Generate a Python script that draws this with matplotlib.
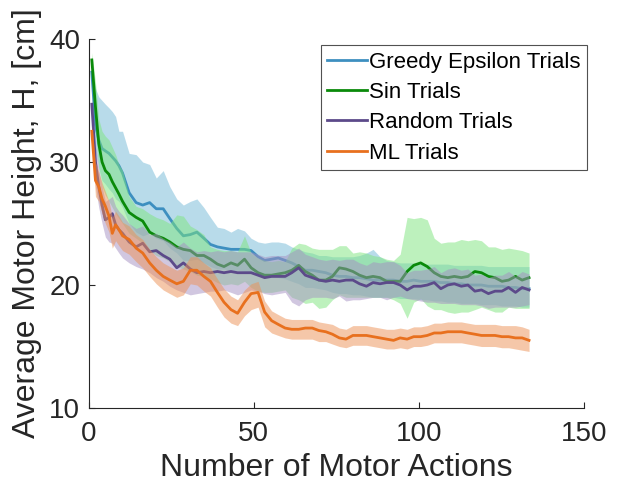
import matplotlib
matplotlib.use("Agg")
import matplotlib.pyplot as plt

plt.rcParams['font.family'] = ['Liberation Sans', 'DejaVu Sans']

actions = [1.0, 2.1, 3.1, 4.1, 5.1, 6.2, 7.2, 8.2, 9.2, 10.3, 12.3, 14.4, 16.4, 18.5, 20.5, 22.6, 24.6, 26.7, 28.7, 30.8,
           32.8, 34.9, 36.9, 39.0, 41.0, 43.1, 45.1, 47.2, 49.2, 51.3, 53.3, 55.4, 57.4, 59.5, 61.5, 63.6, 65.6, 67.7, 69.7, 71.8,
           73.8, 75.9, 77.9, 80.0, 82.0, 84.1, 86.1, 88.2, 90.2, 92.3, 94.3, 96.4, 98.4, 100.5, 102.5, 104.6, 106.6, 108.7, 110.7, 112.8,
           114.8, 116.9, 118.9, 121.0, 123.0, 125.1, 127.1, 129.2, 131.2, 133.3]

greedy_mean = [37.3, 33.0, 31.8, 31.1, 30.9, 30.7, 30.4, 30.1, 29.7, 29.1, 27.5, 26.7, 26.5, 26.7, 26.2, 26.2, 25.4, 24.6, 24.0, 24.1,
               24.3, 23.8, 23.3, 23.1, 23.0, 22.9, 22.9, 22.9, 22.8, 22.3, 22.0, 22.1, 22.2, 22.0, 21.8, 21.5, 21.2, 21.2, 21.1, 21.0,
               20.8, 20.7, 20.7, 20.6, 20.6, 20.5, 20.4, 20.4, 20.4, 20.4, 20.3, 20.3, 20.4, 20.3, 20.3, 20.3, 20.2, 20.2, 20.1, 20.1,
               20.0, 20.0, 20.0, 19.9, 19.9, 19.9, 19.8, 19.8, 19.7, 19.7]
greedy_upper = [38.0, 36.0, 35.3, 35.0, 34.7, 34.4, 34.1, 33.7, 32.5, 32.5, 30.7, 30.6, 30.0, 29.8, 28.7, 29.3, 28.0, 27.0, 26.5, 26.8,
                27.0, 26.3, 25.5, 24.7, 24.6, 24.3, 24.6, 24.4, 23.8, 23.5, 23.4, 23.5, 23.5, 23.4, 23.1, 22.9, 22.7, 22.6, 22.4, 22.4,
                22.3, 22.3, 22.3, 22.3, 22.4, 22.6, 22.9, 22.3, 22.0, 21.9, 21.8, 21.8, 21.8, 21.7, 21.7, 21.7, 21.7, 21.7, 21.6, 21.6,
                21.6, 21.6, 21.6, 21.5, 21.5, 21.5, 21.5, 21.5, 21.5, 21.5]
greedy_lower = [36.5, 31.0, 29.5, 28.5, 28.2, 27.8, 27.5, 27.0, 26.8, 26.3, 25.0, 24.3, 24.0, 24.2, 23.8, 23.6, 23.0, 22.6, 22.0, 22.0,
                22.1, 21.8, 21.5, 21.3, 21.3, 21.2, 21.2, 21.1, 21.0, 20.8, 20.6, 20.6, 20.6, 20.5, 20.3, 20.1, 19.8, 19.8, 19.7, 19.6,
                19.4, 19.3, 19.3, 19.2, 19.2, 19.1, 19.0, 19.0, 19.0, 19.0, 18.9, 18.9, 18.9, 18.8, 18.8, 18.7, 18.7, 18.6, 18.6, 18.5,
                18.5, 18.5, 18.4, 18.4, 18.4, 18.3, 18.3, 18.3, 18.2, 18.2]

sin_mean = [38.3, 34.5, 31.5, 30.0, 29.3, 29.0, 28.4, 27.9, 27.4, 26.8, 25.9, 25.5, 25.2, 24.3, 24.0, 23.8, 23.5, 23.1, 22.9, 22.8,
            22.4, 22.4, 22.1, 21.7, 21.5, 21.8, 21.6, 22.1, 21.4, 21.0, 20.8, 20.8, 20.9, 21.0, 21.2, 21.6, 21.1, 20.8, 20.4, 20.4,
            20.7, 21.4, 21.3, 21.1, 20.8, 20.6, 20.7, 20.6, 20.3, 20.3, 20.3, 21.1, 21.6, 21.8, 21.5, 21.0, 20.7, 20.6, 20.7, 20.6,
            20.7, 21.1, 21.0, 20.7, 20.6, 20.3, 20.4, 20.7, 20.4, 20.6]
sin_upper = [38.9, 36.5, 33.5, 32.5, 32.1, 31.8, 31.2, 30.6, 29.8, 29.3, 27.2, 26.4, 26.2, 25.8, 25.5, 25.3, 25.0, 25.7, 25.6, 24.8,
             24.5, 24.1, 23.1, 22.9, 22.8, 22.8, 22.7, 24.0, 22.6, 22.2, 22.0, 21.9, 22.0, 21.9, 23.0, 23.4, 23.3, 23.0, 22.9, 22.9,
             22.9, 23.2, 23.2, 22.6, 22.7, 22.6, 22.4, 22.3, 22.1, 22.0, 22.5, 25.5, 25.4, 25.5, 25.3, 23.8, 23.4, 23.5, 23.5, 23.7,
             23.6, 23.7, 23.6, 23.1, 23.1, 22.9, 23.0, 22.9, 22.8, 22.6]
sin_lower = [37.5, 32.5, 29.5, 28.0, 27.3, 26.8, 26.3, 25.8, 25.4, 25.0, 24.2, 23.8, 23.4, 22.8, 22.4, 22.2, 21.9, 21.5, 21.3, 21.1,
             20.8, 20.7, 20.5, 20.2, 20.0, 20.1, 20.0, 20.3, 19.8, 19.5, 19.4, 19.4, 19.5, 19.6, 19.0, 18.8, 18.5, 18.6, 18.1, 18.2,
             18.8, 19.2, 19.0, 19.0, 19.0, 19.0, 19.0, 19.0, 19.0, 18.8, 18.5, 17.3, 18.6, 18.9, 18.3, 18.0, 18.0, 17.8, 17.7, 17.8,
             17.8, 18.0, 18.2, 18.0, 17.8, 17.8, 18.2, 18.1, 18.1, 18.1]

random_mean = [34.7, 30.0, 28.0, 26.5, 25.3, 25.5, 25.8, 24.9, 24.5, 24.2, 23.5, 23.1, 23.4, 22.7, 22.8, 22.4, 22.1, 21.4, 21.8, 21.3,
               21.0, 21.1, 21.0, 21.1, 21.0, 21.1, 21.0, 21.0, 21.0, 20.8, 20.6, 20.7, 20.7, 20.7, 21.0, 21.4, 20.8, 20.6, 20.4, 20.3,
               20.4, 20.3, 20.4, 20.4, 20.1, 19.9, 20.2, 20.1, 20.2, 20.2, 20.0, 19.6, 19.9, 19.9, 20.0, 20.2, 19.7, 20.0, 20.1, 19.9,
               20.0, 19.5, 19.6, 19.3, 19.5, 19.5, 19.8, 19.4, 19.8, 19.6]
random_upper = [35.3, 31.5, 29.5, 28.0, 26.8, 27.0, 27.2, 26.4, 26.0, 25.7, 25.0, 24.6, 24.8, 24.1, 24.2, 23.8, 23.5, 23.1, 23.5, 23.0,
                22.7, 22.8, 22.7, 22.8, 22.7, 22.8, 22.7, 22.7, 22.7, 22.5, 22.3, 22.4, 22.4, 22.4, 22.7, 23.0, 22.5, 22.3, 22.1, 22.0,
                22.1, 22.0, 22.1, 22.1, 21.8, 21.6, 21.9, 21.8, 21.9, 21.9, 21.6, 21.0, 21.2, 21.2, 21.3, 21.5, 21.0, 21.3, 21.4, 21.2,
                21.3, 20.8, 20.9, 20.6, 20.8, 20.8, 21.1, 20.7, 21.1, 20.9]
random_lower = [33.5, 28.0, 26.3, 25.0, 23.9, 23.5, 23.4, 23.0, 22.6, 22.2, 21.8, 21.5, 21.3, 21.0, 20.6, 20.3, 19.9, 19.6, 19.4, 19.2,
                19.3, 19.4, 19.5, 19.5, 19.6, 19.4, 19.2, 19.4, 19.6, 19.5, 19.3, 19.2, 19.3, 19.4, 18.6, 18.3, 18.8, 19.0, 19.0, 19.0,
                18.9, 19.1, 18.7, 18.8, 18.8, 18.9, 19.0, 19.0, 18.8, 19.0, 19.1, 18.9, 18.8, 18.7, 18.6, 18.6, 18.5, 18.5, 18.5, 18.4,
                18.4, 18.4, 18.3, 18.1, 18.2, 18.2, 18.2, 18.2, 18.3, 18.4]

ml_mean = [32.5, 28.5, 28.0, 27.0, 26.4, 25.6, 24.2, 24.9, 24.5, 24.0, 23.7, 23.0, 22.6, 21.8, 21.2, 20.7, 20.4, 20.1, 20.3, 21.2,
           21.2, 20.7, 20.3, 19.4, 18.6, 18.0, 17.7, 18.6, 19.3, 19.4, 17.8, 17.1, 16.8, 16.5, 16.4, 16.4, 16.5, 16.5, 16.3, 16.2,
           16.0, 15.7, 15.6, 15.9, 15.9, 15.9, 15.8, 15.7, 15.6, 15.5, 15.7, 15.6, 15.8, 15.8, 15.9, 16.1, 16.1, 16.2, 16.2, 16.2,
           16.1, 16.0, 15.9, 15.9, 15.9, 15.8, 15.8, 15.7, 15.7, 15.5]
ml_upper = [33.0, 30.0, 29.2, 28.3, 27.6, 26.8, 25.5, 26.0, 25.6, 25.1, 24.8, 24.1, 23.7, 22.9, 22.3, 21.8, 21.5, 21.2, 21.4, 22.3,
            22.3, 21.8, 21.4, 20.5, 19.7, 19.1, 18.8, 19.6, 20.1, 20.3, 18.7, 17.9, 17.6, 17.3, 17.2, 17.2, 17.2, 17.2, 17.0, 16.9,
            16.8, 16.5, 16.4, 16.7, 16.7, 16.7, 16.6, 16.5, 16.4, 16.4, 16.5, 16.4, 16.6, 16.6, 16.7, 16.9, 16.9, 17.0, 17.0, 17.0,
            16.9, 16.8, 16.8, 16.8, 16.8, 16.7, 16.7, 16.7, 16.6, 16.4]
ml_lower = [31.5, 27.2, 26.8, 25.8, 25.0, 24.3, 23.0, 23.6, 23.2, 22.8, 22.5, 21.9, 21.4, 20.7, 20.1, 19.6, 19.3, 19.0, 19.2, 20.1,
            20.0, 19.5, 19.1, 18.2, 17.4, 16.9, 16.7, 17.5, 18.0, 18.2, 16.6, 16.1, 15.9, 15.7, 15.6, 15.6, 15.6, 15.6, 15.4, 15.4,
            15.2, 15.0, 14.9, 15.1, 15.1, 15.1, 15.0, 14.9, 14.8, 14.8, 14.9, 14.8, 15.0, 15.0, 15.1, 15.3, 15.3, 15.3, 15.3, 15.3,
            15.2, 15.1, 15.0, 15.0, 15.0, 14.9, 14.9, 14.8, 14.7, 14.6]

series = [
    ("Greedy Epsilon Trials", greedy_mean, greedy_lower, greedy_upper, "#3d8fc0", "#73b9d7", 0.5),
    ("Sin Trials", sin_mean, sin_lower, sin_upper, "#0a8a0a", "#7de57d", 0.5),
    ("Random Trials", random_mean, random_lower, random_upper, "#5c4a8a", "#a590c2", 0.5),
    ("ML Trials", ml_mean, ml_lower, ml_upper, "#e8701e", "#ed9155", 0.5),
]

fig = plt.figure(figsize=(6.22, 4.92), dpi=100)
ax = fig.add_axes([0.1423, 0.1707, 0.797, 0.750])

handles = []
for i, (name, m, lo, hi, lc, fc, a) in enumerate(series):
    ax.fill_between(actions, lo, hi, color=fc, alpha=a, linewidth=0, zorder=2 * i + 1)
    h, = ax.plot(actions, m, color=lc, lw=2.0, label=name, zorder=2 * i + 2)
    handles.append(h)

ax.set_xlim(0, 150)
ax.set_ylim(10, 40)
ax.set_xticks([0, 50, 100, 150])
ax.set_yticks([10, 20, 30, 40])
for s in ['top', 'right']:
    ax.spines[s].set_visible(False)
for s in ['left', 'bottom']:
    ax.spines[s].set_color('#262626')
    ax.spines[s].set_linewidth(0.8)
    ax.spines[s].set_zorder(20)
ax.tick_params(direction='in', length=4, width=0.8, colors='#262626', labelsize=20)
ax.tick_params(axis='x', pad=9)
ax.tick_params(axis='y', pad=6)
ax.set_xlabel("Number of Motor Actions", fontsize=23, color='#262626', labelpad=5)
ax.set_ylabel("Average Motor Height, H, [cm]", fontsize=23, color='#262626', labelpad=5)

leg = ax.legend(handles=handles, loc='upper right', bbox_to_anchor=(1.006, 0.984),
                fontsize=16, frameon=True, fancybox=False, edgecolor='#262626',
                handlelength=1.8, handletextpad=0.08, labelspacing=0.42, borderpad=0.3,
                borderaxespad=0)
leg.set_zorder(30)
leg.get_frame().set_linewidth(0.8)
for t in leg.get_texts():
    t.set_color('#000000')

fig.savefig("out.png", dpi=100)
